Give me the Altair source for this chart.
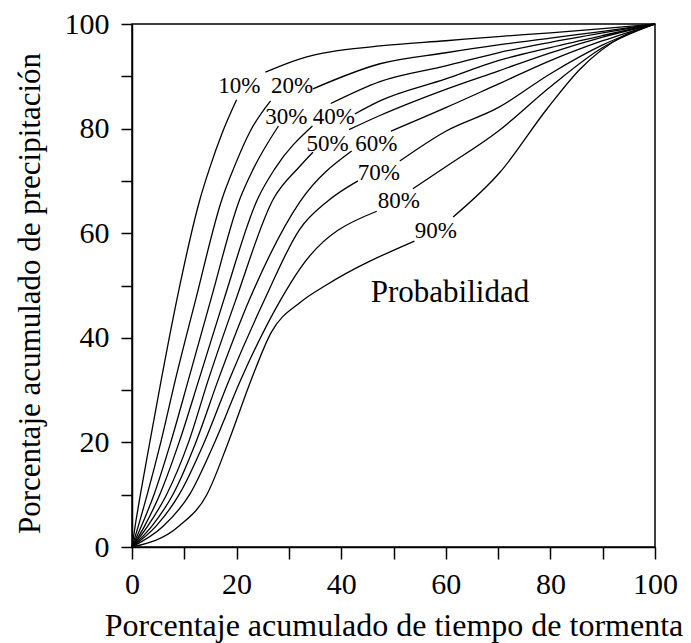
import altair as alt
import pandas as pd

# ---- curve data (x: % storm time, y: % cumulative rainfall) ----
# each probability curve is split in a lower part and an upper part (gap at its label)
p10_lo_x = [0, 0.6, 1.6, 3.4, 5.6, 8.6, 13, 14.8, 17.3, 20]
p10_lo_y = [0, 4, 10, 20, 32, 47.4, 66.5, 72.3, 79.3, 85.5]
p10_hi_x = [25.5, 32, 47.4, 60, 70, 80, 90, 100]
p10_hi_y = [90.8, 93.3, 95.8, 96.8, 97.6, 98.3, 99.1, 100]

p20_lo_x = [0, 1.2, 2.9, 5.5, 8.3, 12.2, 17.2, 19.4, 22.6, 26.5]
p20_lo_y = [0, 4, 10, 20, 32, 47.4, 66.5, 72.3, 79.5, 85.3]
p20_hi_x = [34.6, 47.4, 60, 70, 80, 90, 100]
p20_hi_y = [87.6, 92.4, 94.5, 96, 97.3, 98.6, 100]

p30_lo_x = [0, 1.8, 4.2, 7.4, 10.8, 15.1, 20.6, 23.2, 28]
p30_lo_y = [0, 4, 10, 20, 32, 47.4, 66.5, 72.3, 80.5]
p30_hi_x = [38, 47.4, 60, 70, 80, 90, 100]
p30_hi_y = [84.8, 89, 92, 94.5, 96.5, 98.3, 100]

p40_lo_x = [0, 2.4, 5.3, 9, 12.8, 17.6, 24, 27.3, 34.5]
p40_lo_y = [0, 4, 10, 20, 32, 47.4, 66.5, 72.3, 80.5]
p40_hi_x = [42.6, 47.4, 60, 70, 80, 90, 100]
p40_hi_y = [82.8, 85.3, 89.5, 93, 95.5, 97.8, 100]

p50_lo_x = [0, 3.0, 6.6, 10.8, 14.6, 19.9, 27, 32.1, 34.6]
p50_lo_y = [0, 4, 10, 20, 32, 47.4, 66.5, 72.8, 75.5]
p50_hi_x = [41.5, 47.4, 60, 70, 80, 90, 100]
p50_hi_y = [79.8, 82.5, 87.5, 91, 94.5, 97.5, 100]

p60_lo_x = [0, 3.8, 7.8, 12.2, 16.5, 22.5, 32.1, 42]
p60_lo_y = [0, 4, 10, 20, 32, 47.4, 66, 75.7]
p60_hi_x = [49.5, 60, 70, 80, 90, 100]
p60_hi_y = [79.5, 84, 88.5, 93, 96.8, 100]

p70_lo_x = [0, 4.6, 9, 13.8, 18.6, 25.4, 32.1, 37.5, 43.2]
p70_lo_y = [0, 4, 10, 20, 32, 47.4, 60.8, 66.2, 70]
p70_hi_x = [51.2, 60, 70, 80, 90, 100]
p70_hi_y = [73.8, 79.5, 84, 90.5, 96, 100]

p80_lo_x = [0, 6, 11, 15.8, 20.8, 28.5, 32.1, 46.8]
p80_lo_y = [0, 4, 10, 20, 32, 47.4, 53.2, 64.2]
p80_hi_x = [53.7, 60, 70, 80, 90, 100]
p80_hi_y = [68.5, 72.7, 79.5, 88, 95.5, 100]

p90_lo_x = [0, 9, 14.3, 18.4, 22.8, 26.6, 32.2, 37, 54]
p90_lo_y = [0, 4, 10, 20, 32, 41, 46.8, 50, 58.5]
p90_hi_x = [61.4, 70.4, 79.3, 85.7, 93.9, 100]
p90_hi_y = [63.1, 71.7, 83.7, 91.4, 97.7, 100]

# ---- curve labels ----
label_text = ["10%", "20%", "30%", "40%", "50%", "60%", "70%", "80%", "90%"]
label_x = [20.5, 30.6, 29.5, 38.6, 37.4, 46.7, 47.2, 51.0, 58.1]
label_y = [88.1, 88.1, 82.3, 82.3, 77.1, 77.0, 71.6, 66.2, 60.4]

note_text = ["Probabilidad"]
note_x = [60.8]
note_y = [48.6]

x_title = "Porcentaje acumulado de tiempo de tormenta"
y_title = "Porcentaje acumulado de precipitación"
tick_values = [0, 10, 20, 30, 40, 50, 60, 70, 80, 90, 100]

segments = [
    ("10%", "lo", p10_lo_x, p10_lo_y), ("10%", "hi", p10_hi_x, p10_hi_y),
    ("20%", "lo", p20_lo_x, p20_lo_y), ("20%", "hi", p20_hi_x, p20_hi_y),
    ("30%", "lo", p30_lo_x, p30_lo_y), ("30%", "hi", p30_hi_x, p30_hi_y),
    ("40%", "lo", p40_lo_x, p40_lo_y), ("40%", "hi", p40_hi_x, p40_hi_y),
    ("50%", "lo", p50_lo_x, p50_lo_y), ("50%", "hi", p50_hi_x, p50_hi_y),
    ("60%", "lo", p60_lo_x, p60_lo_y), ("60%", "hi", p60_hi_x, p60_hi_y),
    ("70%", "lo", p70_lo_x, p70_lo_y), ("70%", "hi", p70_hi_x, p70_hi_y),
    ("80%", "lo", p80_lo_x, p80_lo_y), ("80%", "hi", p80_hi_x, p80_hi_y),
    ("90%", "lo", p90_lo_x, p90_lo_y), ("90%", "hi", p90_hi_x, p90_hi_y),
]
rows = []
for prob, seg, xs, ys in segments:
    for xv, yv in zip(xs, ys):
        rows.append({"key": prob + "_" + seg, "x": xv, "y": yv})
curves = pd.DataFrame(rows)
labels = pd.DataFrame({"t": label_text, "x": label_x, "y": label_y})
notes = pd.DataFrame({"t": note_text, "x": note_x, "y": note_y})

FONT = "Liberation Serif"
xscale = alt.Scale(domain=[0, 100], nice=False, zero=False)
yscale = alt.Scale(domain=[0, 100], nice=False, zero=False)

x_axis = alt.Axis(
    values=tick_values, labelExpr="datum.value % 20 == 0 ? datum.label : ''",
    grid=False, tickSize=12, tickWidth=1.5, tickColor="black",
    domainColor="black", domainWidth=1.5,
    labelFont=FONT, labelFontSize=30, labelColor="black", labelPadding=10,
    labelFlush=False, labelOverlap=False, labelBound=False,
    title=x_title, titleFont=FONT, titleFontSize=32, titleFontWeight="normal",
    titleColor="black", titleY=78, titleBaseline="middle",
)
y_axis = alt.Axis(
    values=tick_values, labelExpr="datum.value % 20 == 0 ? datum.label : ''",
    grid=False, tickSize=11, tickWidth=1.5, tickColor="black",
    domainColor="black", domainWidth=1.5,
    labelFont=FONT, labelFontSize=30, labelColor="black", labelPadding=12,
    labelFlush=False, labelOverlap=False, labelBound=False,
    title=y_title, titleFont=FONT, titleFontSize=31, titleFontWeight="normal",
    titleColor="black", titleX=-102, titleY=269, titleBaseline="middle",
)

lines = alt.Chart(curves).mark_line(
    color="black", strokeWidth=1.3, interpolate="monotone"
).encode(
    x=alt.X("x:Q", scale=xscale, axis=x_axis),
    y=alt.Y("y:Q", scale=yscale, axis=y_axis),
    detail="key:N",
    order="x:Q",
)

label_marks = alt.Chart(labels).mark_text(
    font=FONT, fontSize=23, color="black", align="center", baseline="middle"
).encode(x=alt.X("x:Q", scale=xscale), y=alt.Y("y:Q", scale=yscale), text="t:N")

note_marks = alt.Chart(notes).mark_text(
    font=FONT, fontSize=31, color="black", align="center", baseline="middle"
).encode(x=alt.X("x:Q", scale=xscale), y=alt.Y("y:Q", scale=yscale), text="t:N")

chart = alt.layer(lines, label_marks, note_marks).properties(
    width=523, height=523,
    autosize=alt.AutoSizeParams(type="none"),
    padding={"left": 132, "top": 24, "right": 36, "bottom": 96},
    background="white",
).configure_view(stroke="black", strokeWidth=1.5)

chart.save("out.html", embed_options={"renderer": "svg", "actions": False})
